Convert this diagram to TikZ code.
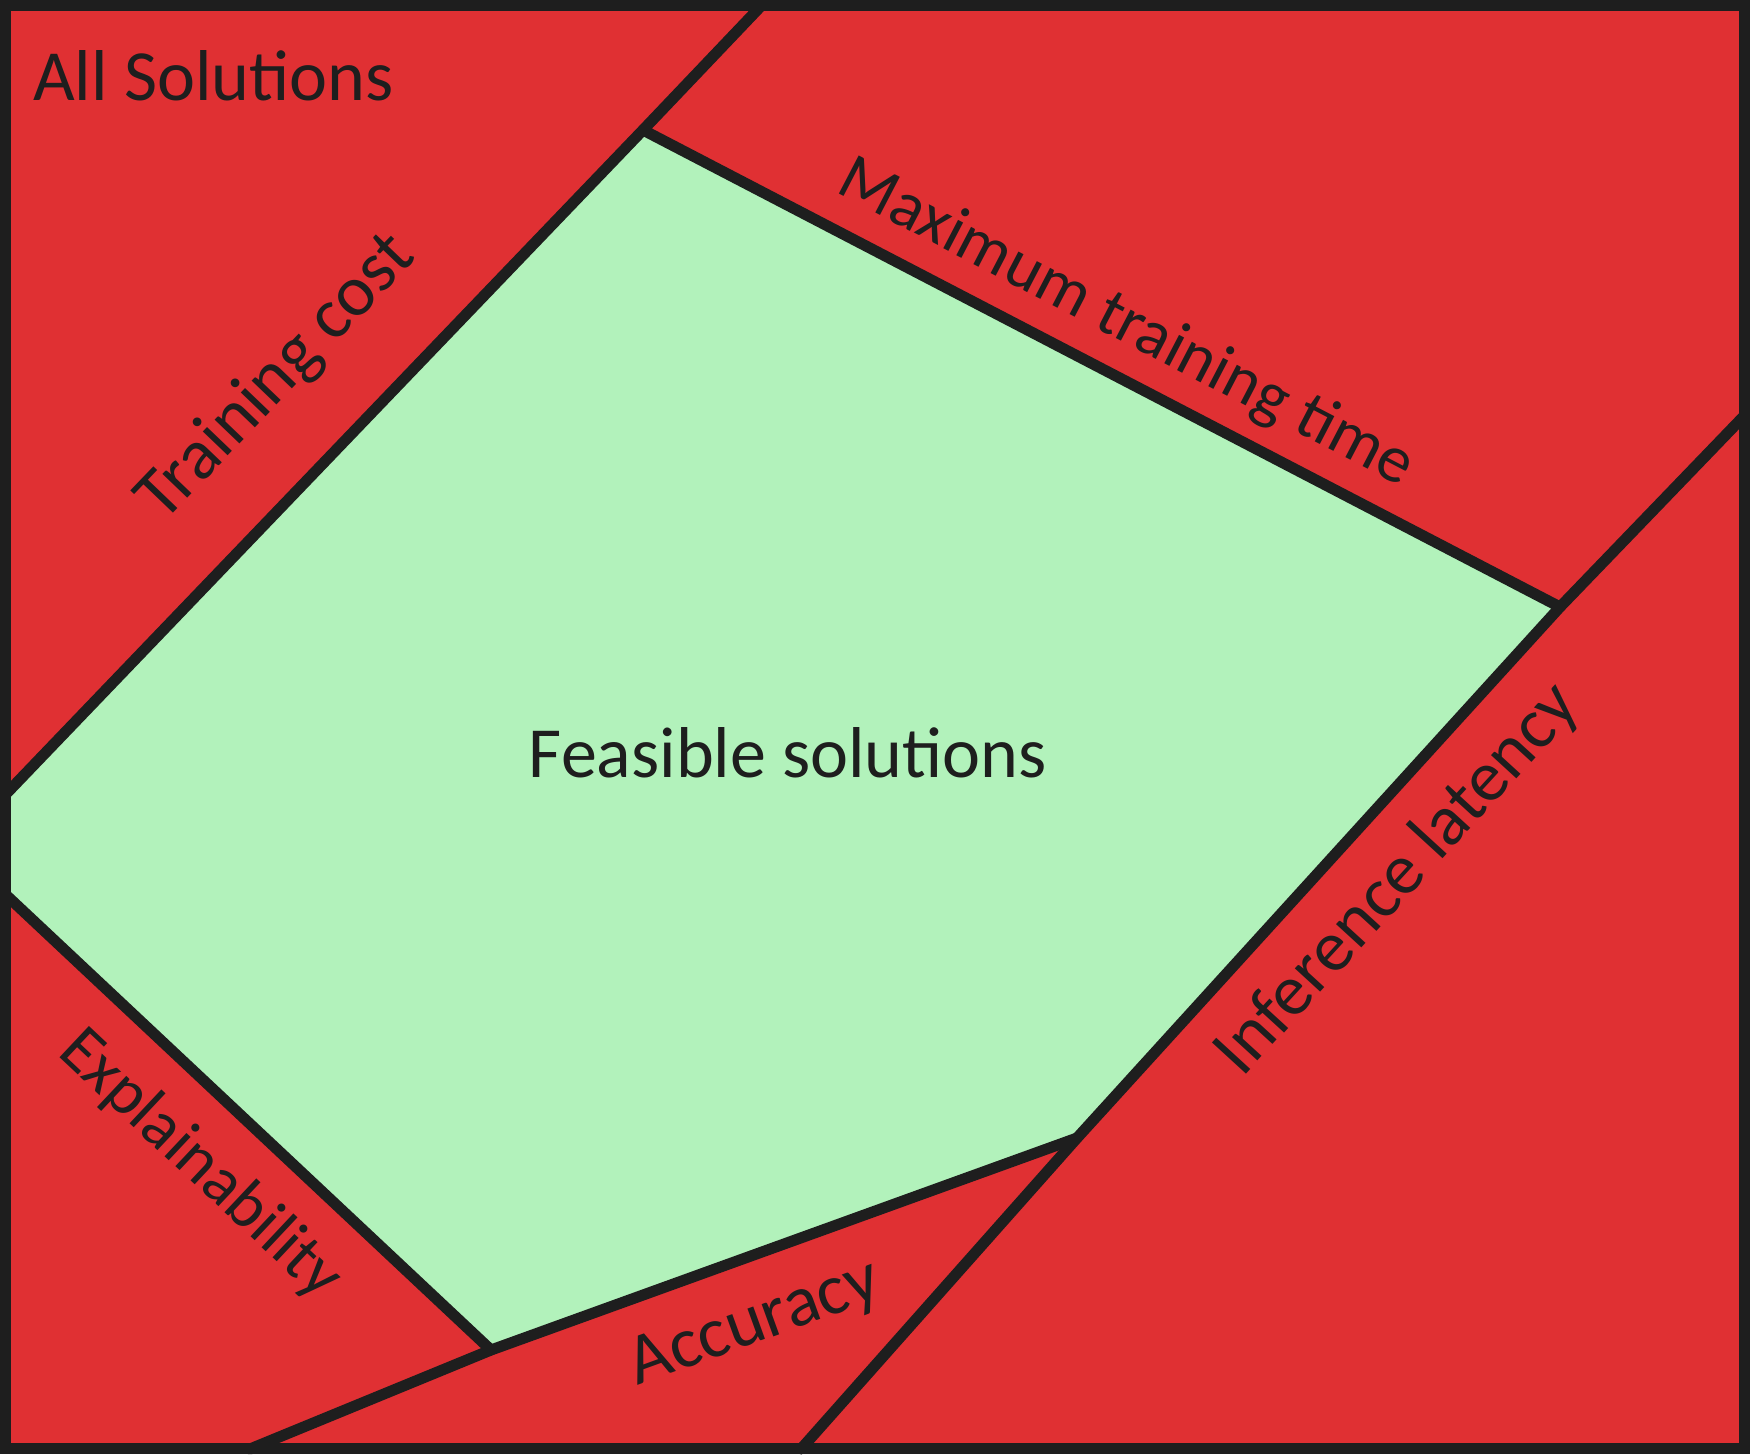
\documentclass[tikz,border=0pt]{standalone}
\usepackage{fontspec}
\setmainfont{Carlito}
\definecolor{inkc}{HTML}{1E1E1E}
\definecolor{redc}{HTML}{E03033}
\definecolor{greenc}{HTML}{B2F2BB}
\tikzset{
  edge/.style={draw=inkc,line width=11pt,line cap=round,line join=round},
  lbl/.style={text=inkc,inner sep=0pt,font=\fontsize{72}{76}\selectfont},
  lblsmall/.style={lbl,font=\fontsize{67}{71}\selectfont},
}
\begin{document}
\begin{tikzpicture}[x=1pt,y=-1pt]
\useasboundingbox (0,0) rectangle (1750,1454);
% corners of the frame
\coordinate (tl) at (0,0);
\coordinate (br) at (1750,1454);
% vertices of the feasible region
\coordinate (v1) at (5,795);
\coordinate (v2) at (643,130);
\coordinate (v3) at (1560,607);
\coordinate (v4) at (1077,1138);
\coordinate (v5) at (491,1350);
\coordinate (v6) at (5,894);
% line ends on the frame
\coordinate (tcTop) at (762,5);
\coordinate (ilTop) at (1745,415);
\coordinate (ilBot) at (801,1449);
\coordinate (acBot) at (250,1449);
% areas
\fill[redc] (tl) rectangle (br);
\fill[greenc] (v1) -- (v2) -- (v3) -- (v4) -- (v5) -- (v6) -- cycle;
% constraint lines
\draw[edge] (tcTop) -- (v2) -- (v1);
\draw[edge] (v2) -- (v3);
\draw[edge] (ilTop) -- (v3) -- (v4) -- (ilBot);
\draw[edge] (v4) -- (v5) -- (acBot);
\draw[edge] (v6) -- (v5);
% frame
\draw[draw=inkc,line width=11pt] (5.5,5.5) rectangle (1744.5,1448.5);
% labels
\node[lbl,anchor=base west] (all) at (33,100) {All Solutions};
\node[lbl,anchor=base] (feas) at (788,777) {Feasible solutions};
\node[lbl,rotate=46.2] (tc) at (277,378) {Training cost};
\node[lblsmall,rotate=-27.5] (mtt) at (1126,324) {Maximum training time};
\node[lbl,rotate=47.5] (il) at (1398,880) {Inference latency};
\node[lblsmall,rotate=-43.2] (ex) at (200,1165) {Explainability};
\node[lbl,rotate=19.9] (ac) at (755,1325) {Accuracy};
\end{tikzpicture}
\end{document}
